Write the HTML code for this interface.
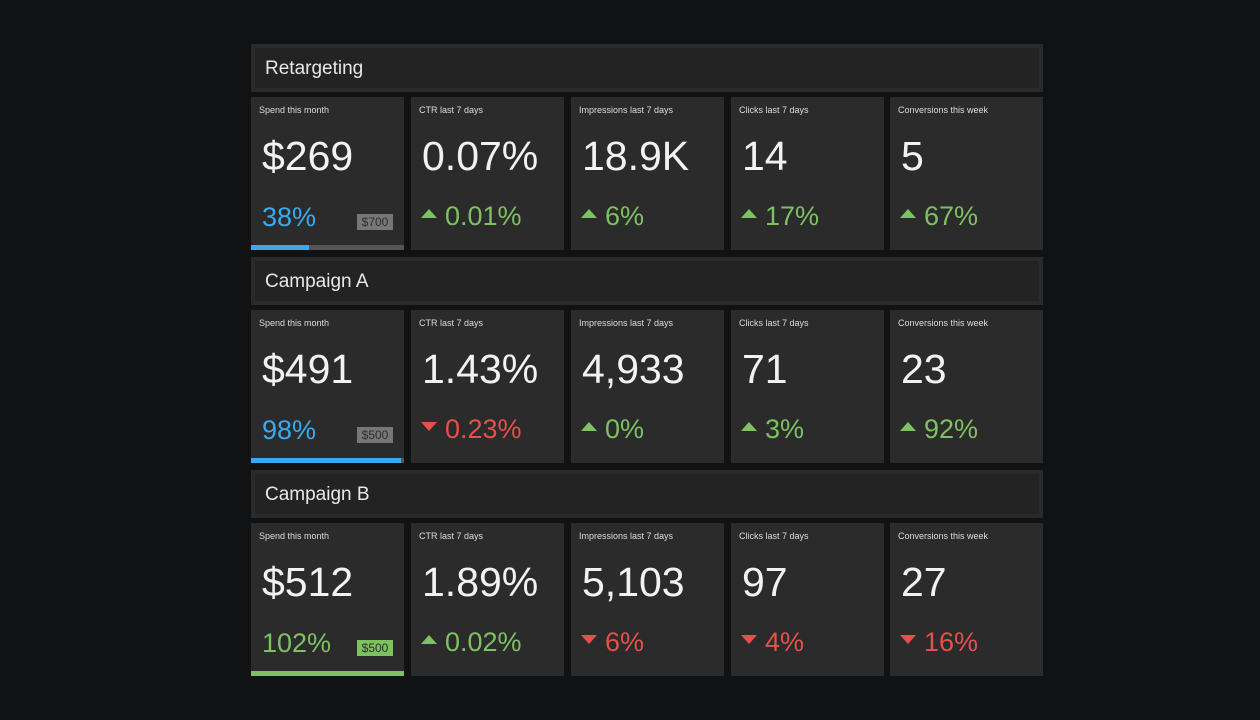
<!DOCTYPE html>
<html><head><meta charset="utf-8"><style>
*{margin:0;padding:0;box-sizing:border-box}
body{width:1260px;height:720px;background:#111214;font-family:"Liberation Sans",sans-serif;position:relative;overflow:hidden}
.hdr{position:absolute;left:251px;width:792px;height:48px;background:#2a2a2a}
.hdr .in{position:absolute;left:4px;top:4px;right:4px;bottom:4px;background:#232323}
.hdr span{position:absolute;left:14px;top:15px;font-size:19px;line-height:19px;color:#e8e8e8}
.card{position:absolute;width:153px;height:153px;background:#2b2b2b}
.lbl{position:absolute;left:8px;top:9px;font-size:9px;line-height:9px;color:#ddd}
.big{position:absolute;left:11px;top:39px;font-size:41px;line-height:41px;color:#f2f2f2}
.dl{position:absolute;left:34px;top:106px;font-size:27px;line-height:27px}
.pc{position:absolute;left:11px;top:107px;font-size:27px;line-height:27px}
.tri{position:absolute;left:10px;top:112px;width:0;height:0;border-left:8px solid transparent;border-right:8px solid transparent}
.up{border-bottom:9px solid #7dc163}
.dn{border-top:9px solid #e5504a}
.g{color:#7dc163}.r{color:#e5504a}.b{color:#3aaaf0}
.badge{position:absolute;left:106px;top:117px;width:36px;height:16px;font-size:12px;line-height:16px;text-align:center;color:#2e2e2e;background:#777}
.track{position:absolute;left:0;bottom:0;width:153px;height:5px;background:#555}
.fill{position:absolute;left:0;top:0;height:5px}
</style></head><body>
<div id="root"></div>
<script>
const groups=["Retargeting","Campaign A","Campaign B"];
const spend=["$269","$491","$512"];
const pct=[38,98,102];
const budget=["$700","$500","$500"];
const labels=["CTR last 7 days","Impressions last 7 days","Clicks last 7 days","Conversions this week"];
const vals=[["0.07%","18.9K","14","5"],["1.43%","4,933","71","23"],["1.89%","5,103","97","27"]];
const deltas=[["0.01%","6%","17%","67%"],["0.23%","0%","3%","92%"],["0.02%","6%","4%","16%"]];
const dirs=[["up","up","up","up"],["dn","up","up","up"],["up","dn","dn","dn"]];
const root=document.getElementById('root');
const xs=[251,411,571,731,890];
groups.forEach((g,i)=>{
  const top=44+i*213;
  const h=document.createElement('div');h.className='hdr';h.style.top=top+'px';
  
  
  h.innerHTML='<div class="in"></div><span>'+g+'</span>';
  root.appendChild(h);
  const ct=top+53;
  const over=pct[i]>100;
  const col=over?'#7dc163':'#3aaaf0';
  const c=document.createElement('div');c.className='card';c.style.left=xs[0]+'px';c.style.top=ct+'px';
  
  
  c.innerHTML='<div class="lbl">Spend this month</div><div class="big">'+spend[i]+'</div><div class="pc" style="color:'+col+'">'+pct[i]+'%</div><div class="badge" style="background:'+(over?'#7dc163':'#777')+'">'+budget[i]+'</div><div class="track"><div class="fill" style="width:'+Math.min(pct[i],100)/100*153+'px;background:'+col+'"></div></div>';
  root.appendChild(c);
  labels.forEach((l,j)=>{
    const d=document.createElement('div');d.className='card';d.style.left=xs[j+1]+'px';d.style.top=ct+'px';
    
    
    const cl=dirs[i][j]=='up'?'g':'r';
    d.innerHTML='<div class="lbl">'+l+'</div><div class="big">'+vals[i][j]+'</div><div class="tri '+dirs[i][j]+'"></div><div class="dl '+cl+'">'+deltas[i][j]+'</div>';
    root.appendChild(d);
  });
});
</script>
</body></html>
